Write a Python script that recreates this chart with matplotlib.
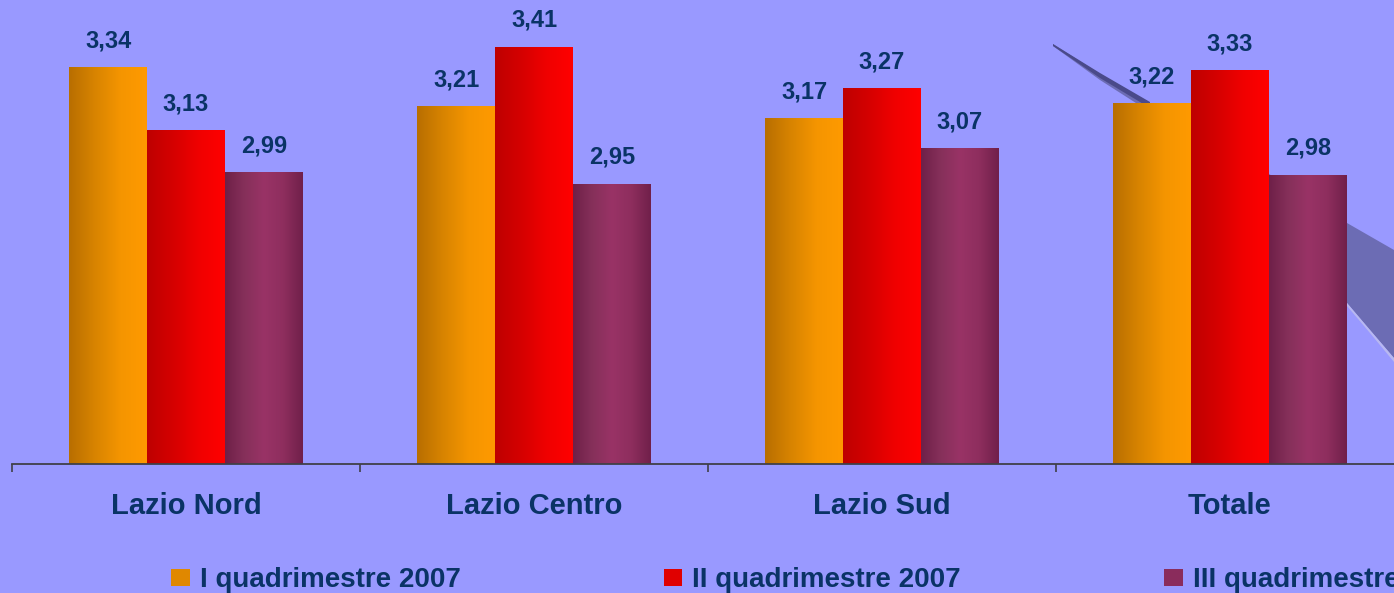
import numpy as np
import matplotlib
matplotlib.use("Agg")
import matplotlib.pyplot as plt
from matplotlib.colors import LinearSegmentedColormap
from matplotlib.patches import Polygon, Rectangle

categories = ["Lazio Nord", "Lazio Centro", "Lazio Sud", "Totale"]
series_names = ["I quadrimestre 2007", "II quadrimestre 2007", "III quadrimestre 2007"]
q1 = [3.34, 3.21, 3.17, 3.22]
q2 = [3.13, 3.41, 3.27, 3.33]
q3 = [2.99, 2.95, 3.07, 2.98]

BG = "#9999FF"
TXT = "#0A3366"
FONT = "Liberation Sans"

W, H = 1394, 593
fig = plt.figure(figsize=(W / 100, H / 100), dpi=100, facecolor=BG)

# decorative swoosh (background)
def px(pts):
    return [(x / W, 1 - y / H) for x, y in pts]

swoosh = Polygon(px([(1053, 44), (1100, 74), (1150, 103), (1250, 162), (1347, 223),
                     (1394, 250), (1394, 358), (1370, 330), (1347, 303), (1250, 215),
                     (1150, 112), (1100, 80), (1053, 46)]),
                 closed=True, transform=fig.transFigure, facecolor="#6C6CB4",
                 edgecolor="none", zorder=-2)
fig.patches.append(swoosh)
edge = Polygon(px([(1347, 303), (1370, 330), (1394, 358), (1394, 362), (1370, 333), (1347, 306)]),
               closed=True, transform=fig.transFigure, facecolor="#B8B8F0",
               edgecolor="none", zorder=-1)
fig.patches.append(edge)
streak = Polygon(px([(1053, 44), (1100, 73), (1150, 102), (1150, 108), (1100, 78), (1053, 46)]),
                 closed=True, transform=fig.transFigure, facecolor="#4A4A8A",
                 edgecolor="none", zorder=-1)
fig.patches.append(streak)

ax = fig.add_axes([12 / W, (H - 464) / H, 1392 / W, 464 / H])
ax.set_facecolor("none")

cmaps = [
    LinearSegmentedColormap.from_list("o", ["#B86E00", "#D88400", "#F59500", "#FF9A00"]),
    LinearSegmentedColormap.from_list("r", ["#BE0000", "#D50000", "#F00000", "#FF0000"]),
    LinearSegmentedColormap.from_list("p", ["#6E2048", "#86305A", "#993366", "#8E2E5E", "#70204A"]),
]
solid = ["#E08800", "#E00000", "#8A2C5C"]

x = np.arange(len(categories))
bw = 0.224
grad = np.linspace(0, 1, 256).reshape(1, -1)
ymin = 2.01
for i, vals in enumerate([q1, q2, q3]):
    bars = ax.bar(x + (i - 1) * bw, vals, width=bw, color=solid[i], zorder=2,
                  linewidth=0)
    for b, v in zip(bars, vals):
        x0, w, h = b.get_x(), b.get_width(), b.get_height()
        im = ax.imshow(grad, extent=[x0, x0 + w, ymin, h], aspect="auto",
                       cmap=cmaps[i], zorder=3)
        im.set_clip_path(b)
        im.set_clip_box(ax.bbox)
        ax.annotate(f"{v:.2f}".replace(".", ","), (x0 + w / 2, h),
                    xytext=(0, 14.5), textcoords="offset points",
                    ha="center", va="baseline", fontsize=17, fontweight="bold",
                    color=TXT, family=FONT, zorder=4)

ax.set_xlim(-0.5, 3.5)
ax.set_ylim(ymin, ymin + 464 / 297.8)

for s in ["top", "left", "right"]:
    ax.spines[s].set_visible(False)
ax.spines["bottom"].set_color("#404048")
ax.spines["bottom"].set_linewidth(1.3)
ax.spines["bottom"].set_zorder(5)
ax.set_yticks([])
ax.set_xticks(np.arange(-0.5, 4.0, 1.0))
ax.set_xticklabels([])
ax.tick_params(axis="x", which="major", length=6, width=1.2, color="#404048", direction="out")
ax.set_xticks(x, minor=True)
ax.set_xticklabels(categories, minor=True, fontsize=21, fontweight="bold",
                   color=TXT, family=FONT)
ax.tick_params(axis="x", which="minor", length=0, pad=20)

handles = [Rectangle((0, 0), 1, 1, facecolor=c, edgecolor="none") for c in solid]
fig.legend(handles, series_names, loc="center left",
           bbox_to_anchor=(171 / W, 1 - 580 / H), ncol=3, frameon=False,
           borderpad=0, borderaxespad=0, handlelength=0.68, handleheight=0.58,
           handletextpad=0.36, columnspacing=7.3,
           prop={"family": FONT, "weight": "bold", "size": 20}, labelcolor=TXT)

fig.savefig("out.png", dpi=100, facecolor=BG)
